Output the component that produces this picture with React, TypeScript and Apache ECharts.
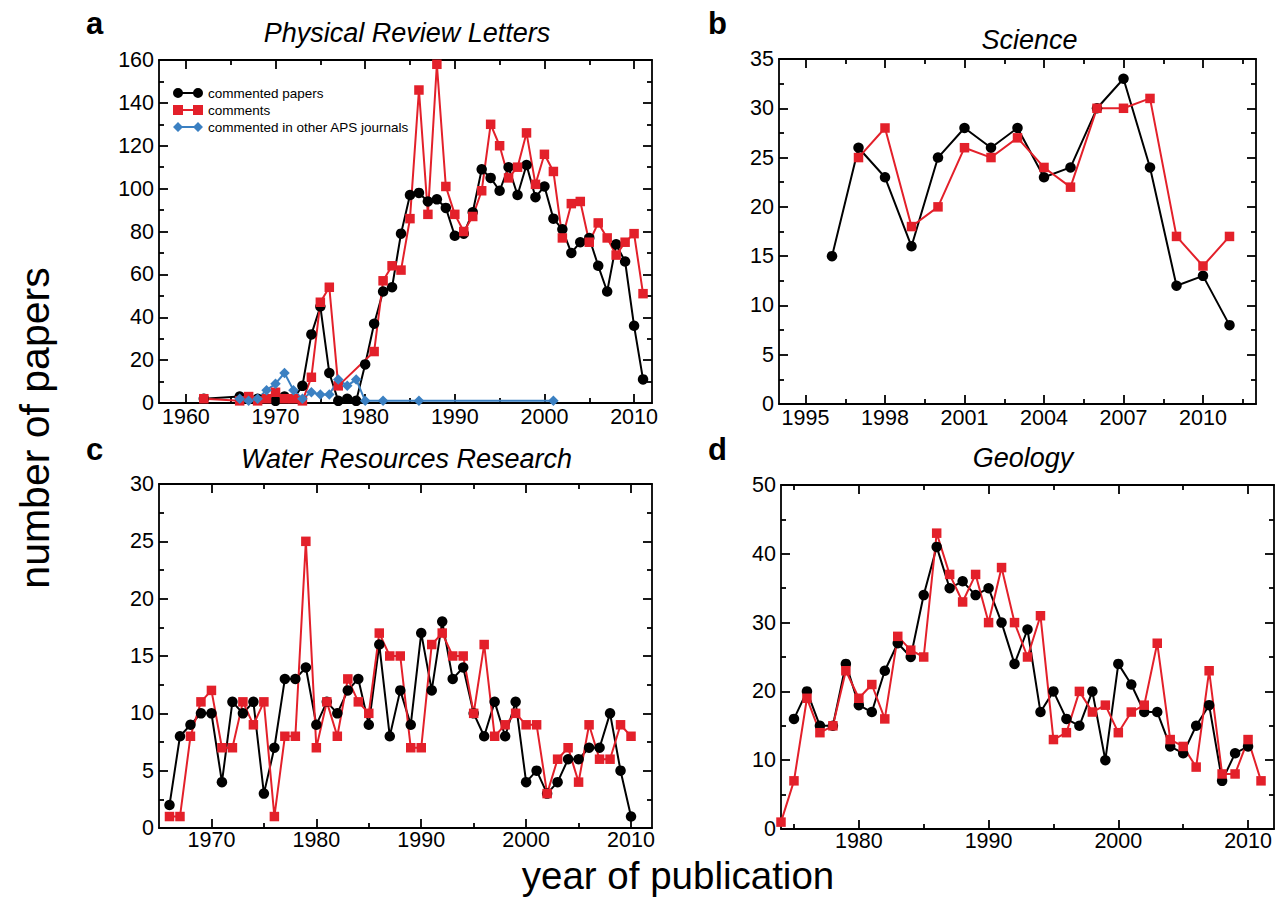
import React, { useEffect, useRef } from "react";
import * as echarts from "echarts";

const FONT = "'Liberation Sans', Arial, Helvetica, sans-serif";
const BLACK = "#000000";
const RED = "#e3202a";
const BLUE = "#3b80c2";

// ---------- Panel a: Physical Review Letters ----------
const prlCommentedPapers = [
  [1962, 2], [1966, 3], [1967, 2], [1968, 2], [1969, 2], [1970, 1], [1971, 3], [1972, 2],
  [1973, 8], [1974, 32], [1975, 45], [1976, 14], [1977, 1], [1978, 2], [1979, 1], [1980, 18],
  [1981, 37], [1982, 52], [1983, 54], [1984, 79], [1985, 97], [1986, 98], [1987, 94], [1988, 95],
  [1989, 91], [1990, 78], [1991, 79], [1992, 89], [1993, 109], [1994, 105], [1995, 99], [1996, 110],
  [1997, 97], [1998, 111], [1999, 96], [2000, 101], [2001, 86], [2002, 81], [2003, 70], [2004, 75],
  [2005, 77], [2006, 64], [2007, 52], [2008, 74], [2009, 66], [2010, 36], [2011, 11],
];
const prlComments = [
  [1962, 2], [1966, 1], [1967, 3], [1968, 1], [1969, 2], [1970, 5], [1971, 2], [1972, 2],
  [1973, 1], [1974, 12], [1975, 47], [1976, 54], [1977, 8], [1981, 24], [1982, 57], [1983, 64],
  [1984, 62], [1985, 86], [1986, 146], [1987, 88], [1988, 158], [1989, 101], [1990, 88], [1991, 80],
  [1992, 87], [1993, 99], [1994, 130], [1995, 120], [1996, 105], [1997, 110], [1998, 126], [1999, 102],
  [2000, 116], [2001, 108], [2002, 77], [2003, 93], [2004, 94], [2005, 75], [2006, 84], [2007, 77],
  [2008, 69], [2009, 75], [2010, 79], [2011, 51],
];
const prlOtherAps = [
  [1966, 2], [1967, 1], [1968, 2], [1969, 6], [1970, 9], [1971, 14], [1972, 6], [1973, 2],
  [1974, 5], [1975, 4], [1976, 4], [1977, 11], [1978, 8], [1979, 11], [1980, 1], [1982, 1],
  [1986, 1], [2001, 1],
];
const prlXTicks = [1960, 1970, 1980, 1990, 2000, 2010];
const prlXMinorTicks = [1965, 1975, 1985, 1995, 2005];

// ---------- Panel b: Science ----------
const sciCommentedPapers = [
  [1996, 15], [1997, 26], [1998, 23], [1999, 16], [2000, 25], [2001, 28], [2002, 26], [2003, 28],
  [2004, 23], [2005, 24], [2006, 30], [2007, 33], [2008, 24], [2009, 12], [2010, 13], [2011, 8],
];
const sciComments = [
  [1997, 25], [1998, 28], [1999, 18], [2000, 20], [2001, 26], [2002, 25], [2003, 27], [2004, 24],
  [2005, 22], [2006, 30], [2007, 30], [2008, 31], [2009, 17], [2010, 14], [2011, 17],
];
const sciXTicks = [1995, 1998, 2001, 2004, 2007, 2010];
const sciXMinorTicks = [1996.5, 1999.5, 2002.5, 2005.5, 2008.5, 2011.5];

// ---------- Panel c: Water Resources Research ----------
const wrrCommentedPapers = [
  [1966, 2], [1967, 8], [1968, 9], [1969, 10], [1970, 10], [1971, 4], [1972, 11], [1973, 10],
  [1974, 11], [1975, 3], [1976, 7], [1977, 13], [1978, 13], [1979, 14], [1980, 9], [1981, 11],
  [1982, 10], [1983, 12], [1984, 13], [1985, 9], [1986, 16], [1987, 8], [1988, 12], [1989, 9],
  [1990, 17], [1991, 12], [1992, 18], [1993, 13], [1994, 14], [1995, 10], [1996, 8], [1997, 11],
  [1998, 8], [1999, 11], [2000, 4], [2001, 5], [2002, 3], [2003, 4], [2004, 6], [2005, 6],
  [2006, 7], [2007, 7], [2008, 10], [2009, 5], [2010, 1],
];
const wrrComments = [
  [1966, 1], [1967, 1], [1968, 8], [1969, 11], [1970, 12], [1971, 7], [1972, 7], [1973, 11],
  [1974, 9], [1975, 11], [1976, 1], [1977, 8], [1978, 8], [1979, 25], [1980, 7], [1981, 11],
  [1982, 8], [1983, 13], [1984, 11], [1985, 10], [1986, 17], [1987, 15], [1988, 15], [1989, 7],
  [1990, 7], [1991, 16], [1992, 17], [1993, 15], [1994, 15], [1995, 10], [1996, 16], [1997, 8],
  [1998, 9], [1999, 10], [2000, 9], [2001, 9], [2002, 3], [2003, 6], [2004, 7], [2005, 4],
  [2006, 9], [2007, 6], [2008, 6], [2009, 9], [2010, 8],
];
const wrrXTicks = [1970, 1980, 1990, 2000, 2010];
const wrrXMinorTicks = [1975, 1985, 1995, 2005];

// ---------- Panel d: Geology ----------
const geoCommentedPapers = [
  [1975, 16], [1976, 20], [1977, 15], [1978, 15], [1979, 24], [1980, 18], [1981, 17], [1982, 23],
  [1983, 27], [1984, 25], [1985, 34], [1986, 41], [1987, 35], [1988, 36], [1989, 34], [1990, 35],
  [1991, 30], [1992, 24], [1993, 29], [1994, 17], [1995, 20], [1996, 16], [1997, 15], [1998, 20],
  [1999, 10], [2000, 24], [2001, 21], [2002, 17], [2003, 17], [2004, 12], [2005, 11], [2006, 15],
  [2007, 18], [2008, 7], [2009, 11], [2010, 12],
];
const geoComments = [
  [1974, 1], [1975, 7], [1976, 19], [1977, 14], [1978, 15], [1979, 23], [1980, 19], [1981, 21],
  [1982, 16], [1983, 28], [1984, 26], [1985, 25], [1986, 43], [1987, 37], [1988, 33], [1989, 37],
  [1990, 30], [1991, 38], [1992, 30], [1993, 25], [1994, 31], [1995, 13], [1996, 14], [1997, 20],
  [1998, 17], [1999, 18], [2000, 14], [2001, 17], [2002, 18], [2003, 27], [2004, 13], [2005, 12],
  [2006, 9], [2007, 23], [2008, 8], [2009, 8], [2010, 13], [2011, 7],
];
const geoXTicks = [1980, 1990, 2000, 2010];
const geoXMinorTicks = [1975, 1985, 1995, 2005];

const seriesNames = ["commented papers", "comments", "commented in other APS journals"];
const panelTitles = ["Physical Review Letters", "Science", "Water Resources Research", "Geology"];
const panelLetters = ["a", "b", "c", "d"];
const xAxisName = "year of publication";
const yAxisName = "number of papers";

const ICON_CIRCLES =
  "path://M0,5A5,5 0 1,1 10,5A5,5 0 1,1 0,5Z M20,5A5,5 0 1,1 30,5A5,5 0 1,1 20,5Z M5,4H25V6H5Z";
const ICON_SQUARES = "path://M0,0H10V10H0Z M20,0H30V10H20Z M9,4H21V6H9Z";
const ICON_DIAMONDS = "path://M0,5L5,0L10,5L5,10Z M20,5L25,0L30,5L25,10Z M4,4H26V6H4Z";

export default function App() {
  const ref = useRef<HTMLDivElement>(null);

  useEffect(() => {
    if (!ref.current) return;
    const chart = echarts.init(ref.current, null, { renderer: "svg" });

    const panels = [
      { grid: { left: 159, top: 60, width: 493, height: 343 }, xMin: 1957, xMax: 2012, major: prlXTicks, minor: prlXMinorTicks, yMax: 160, yInt: 20, xMargin: 3 },
      { grid: { left: 779, top: 59, width: 477, height: 345 }, xMin: 1994, xMax: 2012, major: sciXTicks, minor: sciXMinorTicks, yMax: 35, yInt: 5, xMargin: 3 },
      { grid: { left: 159, top: 484, width: 493, height: 344 }, xMin: 1965, xMax: 2012, major: wrrXTicks, minor: wrrXMinorTicks, yMax: 30, yInt: 5, xMargin: 1 },
      { grid: { left: 781, top: 485, width: 493, height: 344 }, xMin: 1974, xMax: 2012, major: geoXTicks, minor: geoXMinorTicks, yMax: 50, yInt: 10, xMargin: 1 },
    ];

    const axisLineStyle = { color: BLACK, width: 1.8 };
    const labelStyle = { fontSize: 21.5, color: BLACK, fontFamily: FONT };
    const plain = (v: number) => String(v);

    const xAxes: any[] = [];
    const yAxes: any[] = [];
    panels.forEach((p, gi) => {
      const base = {
        type: "value",
        gridIndex: gi,
        min: p.xMin,
        max: p.xMax,
        splitLine: { show: false },
        axisLine: { show: true, onZero: false, lineStyle: axisLineStyle },
        axisLabel: { show: false },
      };
      xAxes.push({
        ...base,
        position: "bottom",
        axisTick: { show: true, inside: true, length: 9, customValues: p.major, lineStyle: axisLineStyle },
        axisLabel: { show: true, customValues: p.major, margin: p.xMargin, formatter: plain, ...labelStyle },
      });
      xAxes.push({
        ...base,
        position: "bottom",
        axisLine: { show: false, onZero: false },
        axisTick: { show: true, inside: true, length: 5, customValues: p.minor, lineStyle: axisLineStyle },
      });
      xAxes.push({
        ...base,
        position: "top",
        axisTick: { show: true, inside: true, length: 9, customValues: p.major, lineStyle: axisLineStyle },
      });
      xAxes.push({
        ...base,
        position: "top",
        axisLine: { show: false, onZero: false },
        axisTick: { show: true, inside: true, length: 5, customValues: p.minor, lineStyle: axisLineStyle },
      });
      const yBase = {
        type: "value",
        gridIndex: gi,
        min: 0,
        max: p.yMax,
        interval: p.yInt,
        splitLine: { show: false },
        minorSplitLine: { show: false },
        axisLine: { show: true, onZero: false, lineStyle: axisLineStyle },
        axisTick: { show: true, inside: true, length: 9, lineStyle: axisLineStyle },
        minorTick: { show: true, splitNumber: 2, length: 5, lineStyle: axisLineStyle },
      };
      yAxes.push({ ...yBase, position: "left", axisLabel: { show: true, margin: 5, formatter: plain, ...labelStyle } });
      yAxes.push({ ...yBase, position: "right", axisLabel: { show: false } });
    });

    const mk = (name: string, data: number[][], gi: number, kind: "circle" | "rect" | "diamond") => {
      const color = kind === "circle" ? BLACK : kind === "rect" ? RED : BLUE;
      return {
        type: "line",
        name,
        data,
        xAxisIndex: gi * 4,
        yAxisIndex: gi * 2,
        symbol: kind,
        symbolSize: kind === "circle" ? 10.5 : kind === "rect" ? 9.5 : 10.5,
        showAllSymbol: true,
        itemStyle: { color, borderWidth: 0 },
        lineStyle: { color, width: 2 },
        emphasis: { disabled: true },
      };
    };

    const series = [
      mk(seriesNames[0], prlCommentedPapers, 0, "circle"),
      mk(seriesNames[1], prlComments, 0, "rect"),
      mk(seriesNames[2], prlOtherAps, 0, "diamond"),
      mk(seriesNames[0], sciCommentedPapers, 1, "circle"),
      mk(seriesNames[1], sciComments, 1, "rect"),
      mk(seriesNames[0], wrrCommentedPapers, 2, "circle"),
      mk(seriesNames[1], wrrComments, 2, "rect"),
      mk(seriesNames[0], geoCommentedPapers, 3, "circle"),
      mk(seriesNames[1], geoComments, 3, "rect"),
    ];

    const txt = (text: string, x: number, y: number, opts: any = {}) => ({
      type: "text",
      x,
      y,
      rotation: opts.rotation || 0,
      silent: true,
      style: {
        text,
        x: 0,
        y: 0,
        fill: BLACK,
        fontFamily: FONT,
        fontSize: opts.fontSize || 20,
        fontWeight: opts.fontWeight || "normal",
        fontStyle: opts.fontStyle || "normal",
        align: opts.align || "left",
        verticalAlign: "middle",
      },
    });

    const graphic = [
      txt(panelLetters[0], 86, 23.5, { fontSize: 31, fontWeight: "bold" }),
      txt(panelLetters[1], 708, 23.5, { fontSize: 31, fontWeight: "bold" }),
      txt(panelLetters[2], 86, 449.5, { fontSize: 31, fontWeight: "bold" }),
      txt(panelLetters[3], 708, 449.5, { fontSize: 31, fontWeight: "bold" }),
      txt(panelTitles[0], 407, 33.2, { fontSize: 27, fontStyle: "italic", align: "center" }),
      txt(panelTitles[1], 1029.5, 39.8, { fontSize: 27, fontStyle: "italic", align: "center" }),
      txt(panelTitles[2], 406.5, 458.5, { fontSize: 27, fontStyle: "italic", align: "center" }),
      txt(panelTitles[3], 1023, 457.5, { fontSize: 27, fontStyle: "italic", align: "center" }),
      txt(xAxisName, 678, 875.2, { fontSize: 38.5, align: "center" }),
      txt(yAxisName, 35, 428, { fontSize: 41, align: "center", rotation: Math.PI / 2 }),
    ];

    const option: any = {
      animation: false,
      backgroundColor: "#ffffff",
      grid: panels.map((p) => ({ ...p.grid, containLabel: false })),
      xAxis: xAxes,
      yAxis: yAxes,
      legend: {
        orient: "vertical",
        left: 173,
        top: 86,
        padding: 0,
        itemWidth: 30,
        itemHeight: 10,
        itemGap: 3,
        selectedMode: false,
        textStyle: { fontSize: 13.5, color: BLACK, fontFamily: FONT },
        data: [
          { name: seriesNames[0], icon: ICON_CIRCLES },
          { name: seriesNames[1], icon: ICON_SQUARES },
          { name: seriesNames[2], icon: ICON_DIAMONDS },
        ],
      },
      series,
      graphic,
    };

    chart.setOption(option);
    return () => chart.dispose();
  }, []);

  return (
    <div
      ref={ref}
      style={{ position: "absolute", left: 0, top: 0, width: 1288, height: 897 }}
    />
  );
}
